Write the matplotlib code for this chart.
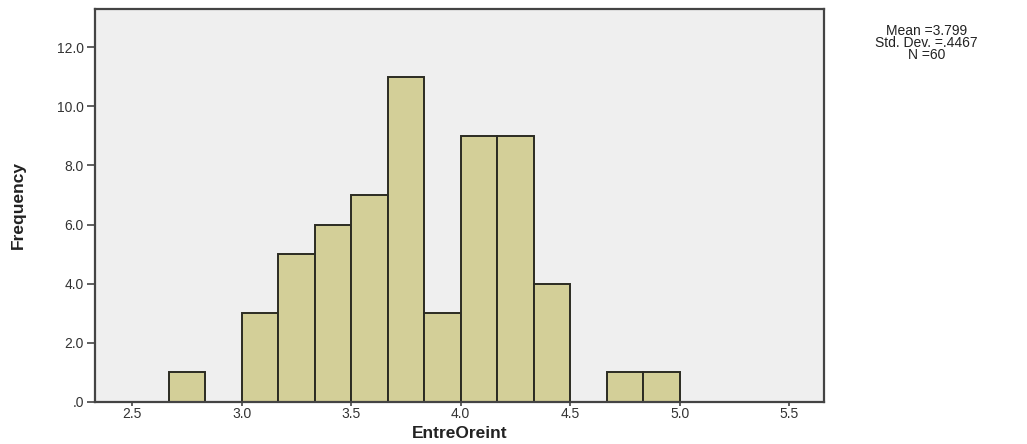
import numpy as np
import matplotlib.pyplot as plt

# histogram of EntreOreint (bin width 1/6)
bin_edges = [8/3, 17/6, 3.0, 19/6, 10/3, 3.5, 11/3, 23/6, 4.0, 25/6, 13/3, 4.5, 14/3, 29/6, 5.0]
counts = [1, 0, 3, 5, 6, 7, 11, 3, 9, 9, 4, 0, 1, 1]
y_ticks = [0, 2, 4, 6, 8, 10, 12]
y_tick_labels = [".0", "2.0", "4.0", "6.0", "8.0", "10.0", "12.0"]
x_ticks = [2.5, 3.0, 3.5, 4.0, 4.5, 5.0, 5.5]
stats_text = "Mean =3.799\nStd. Dev. =.4467\nN =60"

plt.rcParams["font.family"] = ["Liberation Sans", "DejaVu Sans"]

fig = plt.figure(figsize=(10.27, 4.44), dpi=100)
ax = fig.add_axes([0.0925, 0.095, 0.71, 0.885])
ax.set_facecolor("#efefef")

lefts = np.array(bin_edges[:-1])
widths = np.diff(bin_edges)
ax.bar(lefts, counts, width=widths, align="edge", color="#d3cf98",
       edgecolor="#2b2b22", linewidth=1.4)

ax.set_xlim(2.33, 5.66)
ax.set_ylim(0, 13.3)
ax.set_yticks(y_ticks)
ax.set_yticklabels(y_tick_labels)
ax.set_xticks(x_ticks)
ax.set_xticklabels([f"{t:.1f}" for t in x_ticks])
ax.tick_params(axis="both", colors="#444444", labelcolor="#333333",
               labelsize=10, width=1.2)
ax.tick_params(axis="x", length=3, pad=1)
ax.tick_params(axis="y", length=6, pad=2)
for s in ax.spines.values():
    s.set_color("#444444")
    s.set_linewidth(1.6)

ax.set_xlabel("EntreOreint", fontsize=12.5, fontweight="bold", color="#222222",
              labelpad=3)
ax.set_ylabel("Frequency", fontsize=12.5, fontweight="bold", color="#222222",
              labelpad=22)

fig.text(0.902, 0.903, stats_text, ha="center", va="center", fontsize=10,
         color="#222222", linespacing=0.85)

fig.savefig("out.png", dpi=100)
